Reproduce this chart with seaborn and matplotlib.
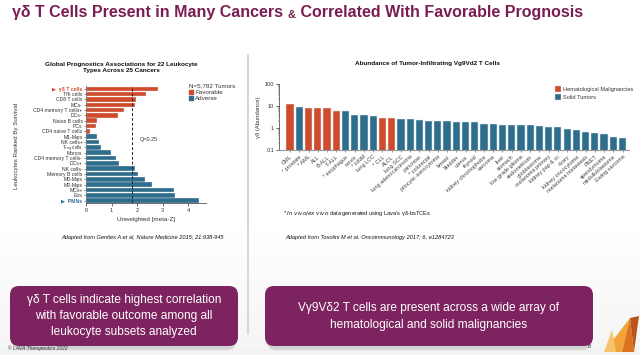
import numpy as np
import pandas as pd
import matplotlib
matplotlib.use("Agg")
import matplotlib.pyplot as plt
import seaborn as sns
from matplotlib import font_manager
from matplotlib.patches import FancyBboxPatch, Polygon, Patch
from matplotlib.lines import Line2D

# ---------------- data ----------------
leuko_labels = ["γδ T cells", "Tfh cells", "CD8 T cells", "MCs-", "CD4 memory T cells+",
                "DCs-", "Naive B cells", "PCs", "CD4 naive T cells", "M1-Mφs", "NK cells+",
                "T$_{reg}$ cells", "Monos", "CD4 memory T cells-", "DCs+", "NK cells-",
                "Memory B cells", "M0-Mφs", "M2-Mφs", "MCs+", "Eos", "PMNs"]
leuko_values = [2.81, 2.34, 1.95, 1.90, 1.49, 1.27, 0.42, 0.38, 0.16, 0.42, 0.51,
                0.58, 0.97, 1.18, 1.29, 1.90, 2.03, 2.31, 2.58, 3.45, 3.49, 4.42]
leuko_assoc = ["Favorable"] * 9 + ["Adverse"] * 13
q_threshold = 1.82
left_xticks = [0, 1, 2, 3, 4]

cancer_labels = ["CML", "* prostate", "* AML", "ALL", "B-ALL", "T-ALL", "* esophagus",
                 "cervix", "* HNM", "lung LCC", "* CLL", "ALCL", "lung SCC",
                 "lung adenocarcinoma", "pancreas", "* colorectal", "pilocytic astrocytoma",
                 "breast", "bladder", "uterus", "thyroid", "kidney chromophobe", "sarcoma",
                 "liver", "stomach", "low grade glioma", "endometrium", "glioblastoma",
                 "melanoma primary", "kidney pap & cc", "ovary", "kidney oncocytoma",
                 "melanoma metastasis", "PNET", "ependymoma", "medulloblastoma",
                 "Ewing sarcoma"]
cancer_values = [12.6, 8.9, 8.2, 8.2, 8.2, 5.8, 5.6, 3.9, 3.8, 3.3, 2.75, 2.75, 2.6,
                 2.4, 2.3, 2.07, 1.92, 1.92, 1.73, 1.73, 1.73, 1.5, 1.5, 1.39, 1.31,
                 1.31, 1.26, 1.21, 1.09, 1.09, 0.91, 0.79, 0.66, 0.58, 0.52, 0.38, 0.34]
heme = {"CML", "* AML", "ALL", "B-ALL", "T-ALL", "* CLL", "ALCL"}
cancer_group = ["Hematological Malignancies" if c in heme else "Solid Tumors" for c in cancer_labels]
right_yticks = [0.1, 1, 10, 100]
right_yticklabels = ["0.1", "1", "10", "100"]

# ---------------- style ----------------
PURPLE = "#7A1D52"
BOX = "#7D2460"
RED = "#CF4B2C"
BLUE = "#2F6D8D"
TXT = "#333333"

sns.set_style("white")
plt.rcParams["font.family"] = ["Liberation Sans", "DejaVu Sans"]
plt.rcParams["axes.linewidth"] = 0.6

W, H = 640, 355
fig = plt.figure(figsize=(W / 100, H / 100), dpi=100)

def fx(x):
    return x / W

def fy(y):
    return 1 - y / H

# background overlay axes in pixel coordinates
bg = fig.add_axes([0, 0, 1, 1], zorder=0)
bg.set_xlim(0, W)
bg.set_ylim(H, 0)
bg.axis("off")
grad = np.linspace(0, 1, 100)[:, None]
grad = np.clip((grad - 0.62) / 0.38, 0, 1)
bg.imshow(1 - 0.045 * grad, cmap="gray", vmin=0, vmax=1, extent=[0, W, H, 0],
          aspect="auto", zorder=0)

# ---------------- left chart ----------------
axL = fig.add_axes([fx(86), fy(203.2), fx(206 - 86), (203.2 - 86.2) / H], zorder=2)
axL.patch.set_alpha(0)
dfL = pd.DataFrame({"cell": leuko_labels, "score": leuko_values, "assoc": leuko_assoc})
sns.barplot(data=dfL, y="cell", x="score", hue="assoc", orient="y",
            palette={"Favorable": RED, "Adverse": BLUE}, dodge=False, legend=False,
            width=0.86, saturation=1, edgecolor="#f2f2f2", linewidth=0.25, ax=axL)
axL.set_xlim(0, 4.7)
axL.set_ylim(len(leuko_labels) - 0.5, -0.5)
axL.axvline(q_threshold, color="#222222", lw=0.7, ls=(0, (3, 2)), zorder=5)
axL.text(q_threshold + 0.28, 9.6, "Q=0.25", fontsize=4, color=TXT, va="center")
axL.set_xticks(left_xticks)
axL.set_xticklabels([str(t) for t in left_xticks])
axL.tick_params(axis="x", labelsize=4, length=2, width=0.5, pad=1.5, colors=TXT, bottom=True)
axL.tick_params(axis="y", labelsize=3.7, length=1.5, width=0.4, pad=1, colors=TXT, left=True)
labs = []
for i, lab in enumerate(leuko_labels):
    if i == 0 or i == len(leuko_labels) - 1:
        labs.append("▶  " + lab)
    else:
        labs.append(lab)
axL.set_yticks(range(len(leuko_labels)))
axL.set_yticklabels(labs)
tl = axL.get_yticklabels()
tl[0].set_color(RED); tl[0].set_fontweight("bold")
tl[-1].set_color(BLUE); tl[-1].set_fontweight("bold")
tl[11].set_fontsize(3.3)
axL.set_xlabel("Unweighted [meta-Z]", fontsize=4.5, color=TXT, labelpad=3)
axL.set_ylabel("")
for s in ["top", "right"]:
    axL.spines[s].set_visible(False)
axL.spines["left"].set_color("#777777")
axL.spines["bottom"].set_color("#555555")

fig.text(fx(17), fy(146), "Leukocytes Ranked By Survival", rotation=90, fontsize=4.4,
         color=TXT, ha="center", va="center")
fig.text(fx(121), fy(67.5), "Global Prognostics Associations for 22 Leukocyte\nTypes Across 25 Cancers",
         fontsize=4.6, fontweight="bold", color="#111111", ha="center", va="center",
         linespacing=1.25)
legL = axL.legend(handles=[Line2D([], [], ls="", marker="s", ms=2.6, color=RED, label="Favorable"),
                           Line2D([], [], ls="", marker="s", ms=2.6, color=BLUE, label="Adverse")],
                  title="N=5,782 Tumors", loc="upper left",
                  bbox_to_anchor=(fx(185), fy(80)), bbox_transform=fig.transFigure,
                  frameon=False, fontsize=4.5, title_fontsize=4.5, handlelength=0.6,
                  handletextpad=0.4, borderpad=0.1, labelspacing=0.15, alignment="left")
for t in legL.get_texts():
    t.set_color(TXT)
legL.get_title().set_color(TXT)

fig.text(fx(143), fy(238), "Adapted from Gentles A et al, Nature Medicine 2015; 21:938-945",
         fontsize=4.1, style="italic", color="#111111", ha="center", va="center")

# ---------------- right chart ----------------
axR = fig.add_axes([fx(279), fy(149.5), fx(629 - 279), (149.5 - 84) / H], zorder=2)
axR.patch.set_alpha(0)
dfR = pd.DataFrame({"cancer": cancer_labels, "abundance": cancer_values, "group": cancer_group})
sns.barplot(data=dfR, x="cancer", y="abundance", hue="group",
            palette={"Hematological Malignancies": RED, "Solid Tumors": BLUE},
            dodge=False, legend=False, width=0.78, saturation=1,
            edgecolor="#dfeaf0", linewidth=0.35, ax=axR)
axR.set_yscale("log")
axR.set_ylim(0.1, 100)
axR.set_xlim(-1.2, len(cancer_labels) - 0.3)
axR.set_yticks(right_yticks)
axR.set_yticklabels(right_yticklabels)
axR.tick_params(axis="y", which="major", labelsize=4, length=2, width=0.5, pad=1.5, colors=TXT, left=True)
axR.tick_params(axis="y", which="minor", length=1, width=0.35, colors="#555555", left=True)
axR.set_xticks(range(len(cancer_labels)))
axR.set_xticklabels(cancer_labels, rotation=42, ha="right", rotation_mode="anchor")
axR.tick_params(axis="x", labelsize=4.0, length=1.5, width=0.4, pad=2, colors="#444444", bottom=True)
axR.set_xlabel("")
axR.set_ylabel("γδ (Abundance)", fontsize=4.2, color=TXT, labelpad=3)
for s in ["top", "right"]:
    axR.spines[s].set_visible(False)
axR.spines["left"].set_color("#555555")
axR.spines["bottom"].set_color("#999999")
axR.spines["bottom"].set_linewidth(0.8)

fig.text(fx(427.5), fy(63), "Abundance of Tumor-Infiltrating Vg9Vd2 T Cells", fontsize=4.6,
         fontweight="bold", color="#111111", ha="center", va="center")
legR = axR.legend(handles=[Patch(facecolor=RED, edgecolor="#dddddd", lw=0.3, label="Hematological Malignancies"),
                           Patch(facecolor=BLUE, edgecolor="#dddddd", lw=0.3, label="Solid Tumors")],
                  loc="upper left", bbox_to_anchor=(fx(552), fy(83)),
                  bbox_transform=fig.transFigure, frameon=False, fontsize=4.1,
                  handlelength=0.9, handleheight=1.25, handletextpad=0.35, borderpad=0.1,
                  labelspacing=0.2)
for t in legR.get_texts():
    t.set_color(TXT)

fig.text(fx(283), fy(213), "* $\\it{In\\ vivo/ex\\ vivo}$ data generated using Lava's γδ-bsTCEs",
         fontsize=4.1, color="#111111", ha="left", va="center")
fig.text(fx(285), fy(238), "Adapted from Tosolini M et al. Oncoimmunology 2017; 6, e1284723",
         fontsize=4.1, style="italic", color="#111111", ha="left", va="center")

# ---------------- slide decorations ----------------
bg.plot([248, 248], [55, 334], color="#d4d4d4", lw=1.3, zorder=1)

for (x0, x1) in [(10, 238), (265, 593)]:
    for k, a in enumerate([0.05, 0.05, 0.04]):
        bg.add_patch(FancyBboxPatch((x0 + 2, 287 + 2 + k), x1 - x0 - 4, 60,
                                    boxstyle="round,pad=0,rounding_size=9",
                                    fc="#000000", ec="none", alpha=a, zorder=1))
    bg.add_patch(FancyBboxPatch((x0, 286), x1 - x0, 60, boxstyle="round,pad=0,rounding_size=9",
                                fc=BOX, ec="none", zorder=2))

bg.text(124, 316, "γδ T cells indicate highest correlation\nwith favorable outcome among all\nleukocyte subsets analyzed",
        fontsize=8.6, color="white", ha="center", va="center", linespacing=1.45, zorder=3)
bg.text(429, 316.5, "Vγ9Vδ2 T cells are present across a wide array of\nhematological and solid malignancies",
        fontsize=8.6, color="white", ha="center", va="center", linespacing=1.5, zorder=3)

bg.text(8, 348, "© LAVA Therapeutics 2022", fontsize=3.6, style="italic", color="#333333",
        ha="left", va="center", zorder=3)
bg.text(589, 347, "8", fontsize=4, color="#333333", ha="center", va="center", zorder=3)

# logo
bg.add_patch(Polygon([[604, 352], [630, 318], [622, 352]], closed=True, fc="#F2A33A", ec="none", zorder=3))
bg.add_patch(Polygon([[622, 352], [630, 318], [634, 352]], closed=True, fc="#D9731E", ec="none", zorder=3))
bg.add_patch(Polygon([[630, 318], [639, 316], [634, 352]], closed=True, fc="#B8561A", ec="none", zorder=3))
bg.add_patch(Polygon([[604, 352], [612, 330], [616, 352]], closed=True, fc="#F7C46A", ec="none", zorder=3))

# ---------------- title ----------------
names = {f.name for f in font_manager.fontManager.ttflist}
tfam = ["Liberation Sans Narrow", "Liberation Sans", "DejaVu Sans"] if "Liberation Sans Narrow" in names \
    else ["Liberation Sans", "DejaVu Sans"]
renderer = fig.canvas.get_renderer()
parts = [("γδ T Cells Present in Many Cancers ", 1.0), ("&", 0.7), (" Correlated With Favorable Prognosis", 1.0)]
target_w = 568.0

def draw_title(size):
    texts = []
    x = 12.0
    for s, scale in parts:
        t = fig.text(x / W, fy(17.5), s, fontsize=size * scale, fontweight="bold",
                     color=PURPLE, ha="left", va="baseline", family=tfam)
        w = t.get_window_extent(renderer).width
        texts.append(t)
        x += w
    return texts, x - 12.0

texts, width = draw_title(14)
for t in texts:
    t.remove()
texts, width = draw_title(14 * target_w / width)

fig.savefig("out.png", dpi=100)
